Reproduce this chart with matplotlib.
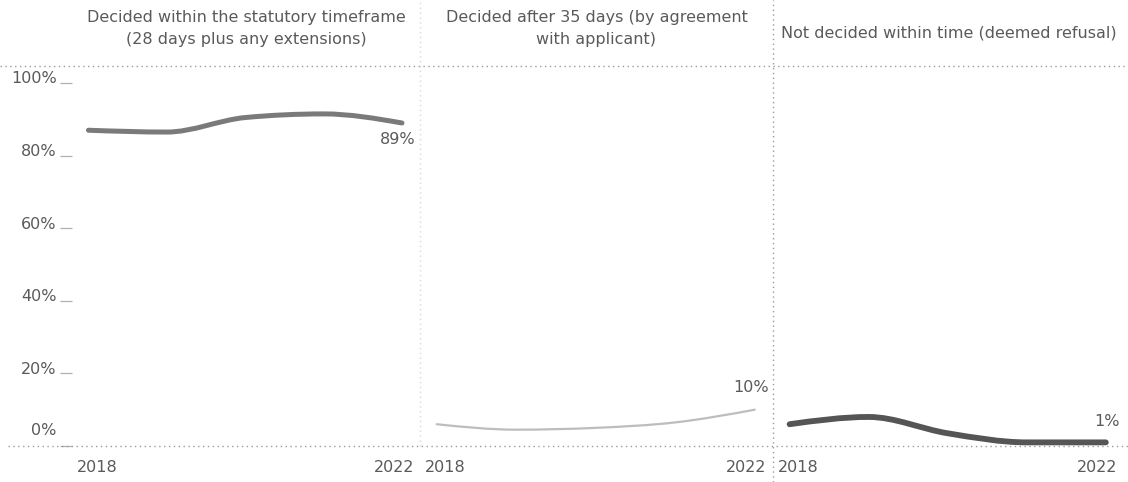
import matplotlib
matplotlib.use('Agg')
import matplotlib.pyplot as plt
import numpy as np
from matplotlib.path import Path
from matplotlib.patches import PathPatch
from matplotlib.lines import Line2D
from matplotlib.transforms import ScaledTranslation

# data (share of decisions, %)
years = [2018, 2019, 2020, 2021, 2022]
within_time = [87, 86.5, 90.5, 91.5, 89]
after_35_days = [6, 4.5, 5, 6.5, 10]
not_decided = [6, 8, 3.5, 1, 1]

titles = ['Decided within the statutory timeframe\n(28 days plus any extensions)',
          'Decided after 35 days (by agreement\nwith applicant)',
          'Not decided within time (deemed refusal)']
y_ticks = [0, 20, 40, 60, 80, 100]
x_ticks = [2018, 2022]

W, H = 1128, 482
txt = '#5a5a5a'
grid = '#9a9a9a'


def monotone_path(xs, ys):
    # smooth curve through the points (monotone cubic, like d3 curveMonotoneX)
    xs = np.asarray(xs, float); ys = np.asarray(ys, float)
    h = np.diff(xs); s = np.diff(ys) / h
    n = len(xs)
    m = np.zeros(n)
    for i in range(1, n - 1):
        if s[i-1] * s[i] > 0:
            p = (s[i-1] * h[i] + s[i] * h[i-1]) / (h[i-1] + h[i])
            m[i] = (np.sign(s[i-1]) + np.sign(s[i])) * min(abs(s[i-1]), abs(s[i]), 0.5 * abs(p))
    m[0] = (3 * s[0] - m[1]) / 2
    m[-1] = (3 * s[-1] - m[-2]) / 2
    verts = [(xs[0], ys[0])]
    codes = [Path.MOVETO]
    for i in range(n - 1):
        d = h[i] / 3
        verts += [(xs[i] + d, ys[i] + d * m[i]),
                  (xs[i+1] - d, ys[i+1] - d * m[i+1]),
                  (xs[i+1], ys[i+1])]
        codes += [Path.CURVE4] * 3
    return Path(verts, codes)


fig = plt.figure(figsize=(W / 100, H / 100), dpi=100)

bottom = (H - 446) / H
height = (446 - 66) / H
panels = [(72, 420), (420, 773), (773, 1124)]
series = [within_time, after_35_days, not_decided]
colors = ['#7a7a7a', '#bdbdbd', '#555555']
widths = [3.6, 1.6, 4.2]
label_off = [(10, -12), (10, 16), (10, 15)]
title_dy = [27, 27, 24]

for k, (x0, x1) in enumerate(panels):
    ax = fig.add_axes([x0 / W, bottom, (x1 - x0) / W, height])
    ax.set_xlim(2017.79, 2022.23)
    ax.set_ylim(0, 104.7)
    for sp in ax.spines.values():
        sp.set_visible(False)
    ax.set_xticks(x_ticks)
    ax.set_xticklabels([str(x) for x in x_ticks])
    ax.tick_params(axis='x', length=0, pad=10, labelsize=11.5, labelcolor=txt)
    # year labels sit a little inside the panel
    for lab, dx in zip(ax.get_xticklabels(), [6, -6]):
        lab.set_transform(lab.get_transform() + ScaledTranslation(dx / 72, 0, fig.dpi_scale_trans))
    if k == 0:
        ax.set_yticks(y_ticks)
        ax.tick_params(axis='y', length=8.5, width=0.9, color='#b0b0b0', labelleft=False)
        for v in y_ticks:
            dy = 11 if v == 0 else 3
            ax.annotate('%d%%' % v, xy=(0, v), xycoords=('axes fraction', 'data'),
                        xytext=(-11, dy), textcoords='offset points',
                        ha='right', va='center', fontsize=11.5, color=txt)
    else:
        ax.set_yticks([])

    patch = PathPatch(monotone_path(years, series[k]), facecolor='none',
                      edgecolor=colors[k], lw=widths[k], capstyle='round', clip_on=False)
    ax.add_patch(patch)

    ax.annotate('%d%%' % round(series[k][-1]), xy=(years[-1], series[k][-1]),
                xytext=label_off[k], textcoords='offset points',
                ha='right', va='center', fontsize=11.5, color=txt)

    ax.annotate(titles[k], xy=(0.5, 1), xycoords='axes fraction',
                xytext=(0, title_dy[k]), textcoords='offset points', ha='center', va='center',
                fontsize=11.5, color=txt, linespacing=1.6)

# frame lines (top/bottom dotted, panel separators)
dots = (0, (1, 2.5))
fig.add_artist(Line2D([0, 1], [(H - 66) / H] * 2, color=grid, lw=1, ls=dots))
fig.add_artist(Line2D([8 / W, 1], [(H - 446) / H] * 2, color=grid, lw=1, ls=dots))
fig.add_artist(Line2D([420 / W] * 2, [(H - 446) / H, 1], color='#d8d8d8', lw=1, ls=dots))
fig.add_artist(Line2D([773 / W] * 2, [0, 1], color=grid, lw=1, ls=dots))

fig.savefig('out.png', dpi=100, facecolor='white')
